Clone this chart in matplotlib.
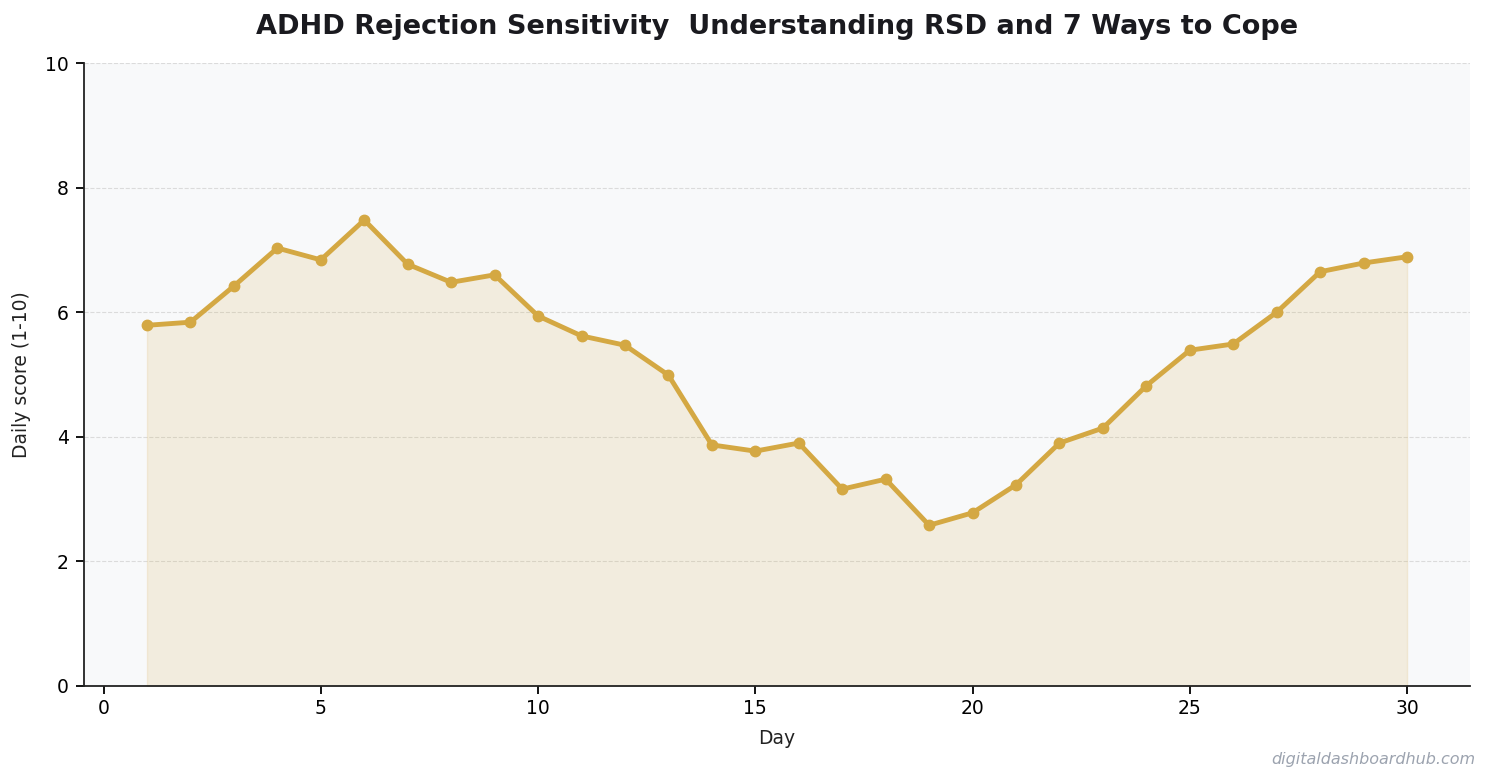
import matplotlib.pyplot as plt

days = list(range(1, 31))
scores = [5.79, 5.84, 6.42, 7.03, 6.84, 7.48, 6.77, 6.48, 6.60, 5.94,
          5.62, 5.47, 4.99, 3.87, 3.77, 3.90, 3.16, 3.32, 2.58, 2.78,
          3.23, 3.90, 4.14, 4.82, 5.39, 5.49, 6.00, 6.65, 6.79, 6.89]

gold = '#D4A843'

fig = plt.figure(figsize=(14.92, 7.83), dpi=100)
ax = fig.add_axes([0.0563, 0.1239, 0.9290, 0.7956])
ax.set_facecolor('#F8F9FA')

ax.fill_between(days, scores, color=gold, alpha=0.15)
ax.plot(days, scores, color=gold, linewidth=3.5, marker='o', markersize=7.5)

ax.set_ylim(0, 10)
ax.set_xticks([0, 5, 10, 15, 20, 25, 30])
ax.grid(axis='y', linestyle='--', color='#D8D8D8', alpha=0.9)
ax.set_axisbelow(True)
for s in ['top', 'right']:
    ax.spines[s].set_visible(False)
for s in ['left', 'bottom']:
    ax.spines[s].set_color('#222222')
    ax.spines[s].set_linewidth(1.3)
ax.tick_params(labelsize=13.5, length=6, width=1.3)
ax.tick_params(axis='y', pad=5)

ax.set_xlabel('Day', fontsize=13.5, color='#222222', labelpad=8)
ax.set_ylabel('Daily score (1-10)', fontsize=13.5, color='#222222', labelpad=10)
ax.set_title('ADHD Rejection Sensitivity  Understanding RSD and 7 Ways to Cope',
             fontsize=19.5, fontweight='bold', color='#1a1a1f', pad=21)

fig.text(0.989, 0.021, 'digitaldashboardhub.com', ha='right', va='bottom',
         fontsize=11.5, style='italic', color='#9CA3AF')

fig.savefig('out.png', dpi=100)
